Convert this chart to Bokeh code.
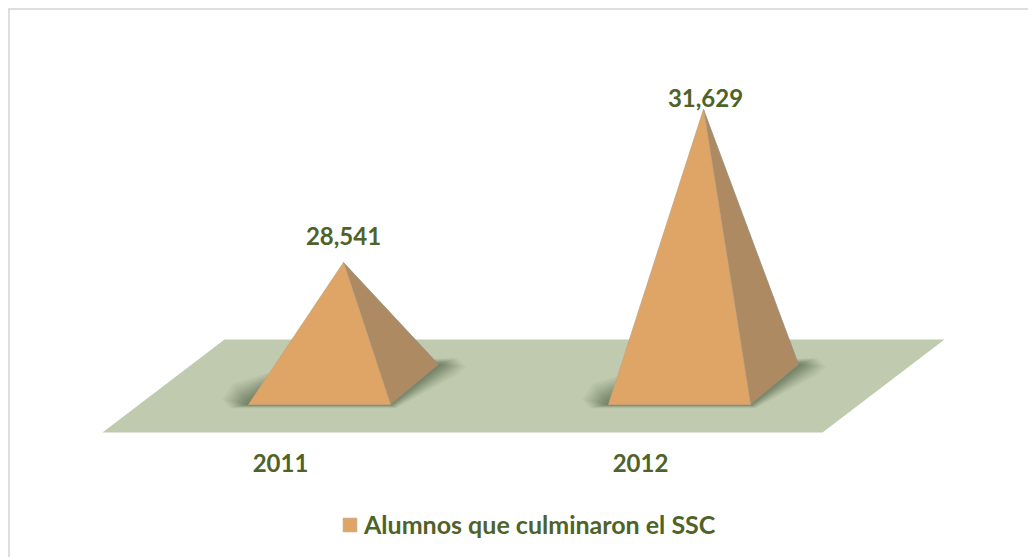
from bokeh.plotting import figure
from bokeh.models import Range1d, Legend, LegendItem, FixedTicker
from bokeh.embed import file_html
from bokeh.resources import INLINE
from bokeh.core.properties import value

categories = ["2011", "2012"]
values = [28541, 31629]
labels = ["28,541", "31,629"]
series_name = "Alumnos que culminaron el SSC"

FONT = "Lato"
TXT = "#4F6228"
FW, FH = 1018, 547          # frame size in px
OX, OY = 10, 10             # frame offset from window
PX_PER_CAT = 360.0
PX_PER_VAL = 153 / 3088
BASE_VAL = 28541 - 142 / PX_PER_VAL   # value at the pyramids' front base edge

def ux(px): return (px - 280) / PX_PER_CAT     # window px -> category units
def dx(px): return px / PX_PER_CAT
def dv(px): return px / PX_PER_VAL
def vy(py): return BASE_VAL + (404 - py) / PX_PER_VAL

p = figure(frame_width=FW, frame_height=FH, output_backend="svg",
           toolbar_location=None, min_border=0,
           x_range=Range1d(ux(OX), ux(OX + FW)), y_range=Range1d(vy(OY + FH), vy(OY)))
p.margin = (8, 0, 0, 8)
p.styles = {"border-top": "2px solid #DEDEDE", "border-left": "2px solid #DEDEDE"}
p.grid.visible = False
p.outline_line_color = None
p.yaxis.visible = False
ax = p.xaxis[0]
ax.ticker = FixedTicker(ticks=[0, 1])
ax.major_label_overrides = {0: categories[0], 1: categories[1]}
ax.axis_line_color = None
ax.major_tick_line_color = None
ax.minor_tick_line_color = None
ax.major_tick_out = 0
ax.major_tick_in = 0
ax.minor_tick_out = 0
ax.major_label_standoff = -104
ax.major_label_text_font = FONT
ax.major_label_text_font_style = "bold"
ax.major_label_text_font_size = "24px"
ax.major_label_text_color = TXT

# floor
fl = dv(28)
p.patch([ux(102), ux(822), ux(944), ux(224)],
        [BASE_VAL - fl, BASE_VAL - fl, vy(339), vy(339)],
        fill_color="#BFCAAF", line_color=None)

BASE_W = dx(142)
DEPTH_X = dx(48)
DEPTH_V = dv(40)
OFFSET = dx(39)   # front-edge centre relative to the category tick
front_r = None
for i, v in enumerate(values):
    xl = i + OFFSET - BASE_W / 2
    xr = i + OFFSET + BASE_W / 2
    apex_x = i + OFFSET + DEPTH_X / 2
    # soft shadow: stacked, growing translucent copies of the base
    for grow, a in [(26, .05), (23, .06), (20, .07), (17, .08), (14, .09), (11, .10), (8, .11), (5, .12), (2, .12)]:
        g = dx(grow)
        h = dv(grow)
        sx = [xl - g * .7, xl - g, xl - g * .6, xl + DEPTH_X,
              xr + DEPTH_X + g * .7, xr + DEPTH_X + g * 1.05, xr + DEPTH_X + g * .7, xr + g * .2]
        sy = [BASE_VAL - h * .14, BASE_VAL + h * .2, BASE_VAL + h * .8, BASE_VAL + DEPTH_V,
              BASE_VAL + DEPTH_V + h * .25, BASE_VAL + DEPTH_V - h * .1, BASE_VAL + DEPTH_V - h * .4, BASE_VAL - h * .14]
        p.patch(sx, sy, fill_color="#3F4F30", fill_alpha=a, line_color=None)
    # side face
    p.patch([xr, xr + DEPTH_X, apex_x], [BASE_VAL, BASE_VAL + DEPTH_V, v],
            fill_color="#AE8A63", line_color="#8F8F80", line_width=0.8)
    # front face
    r = p.patch([xl, xr, apex_x], [BASE_VAL, BASE_VAL, v],
                fill_color="#DFA566", line_color="#C8A27A", line_width=0.8)
    front_r = r

label_gap = [18, 3]
p.text(x=[ux(343), ux(705)], y=[v + dv(g) for v, g in zip(values, label_gap)], text=labels,
       text_font=value(FONT), text_font_style="bold", text_font_size="24px",
       text_color=TXT, text_align="center", text_baseline="bottom")

legend = Legend(items=[LegendItem(label=series_name, renderers=[front_r])],
                orientation="horizontal", location=(331, 18),
                border_line_color=None, background_fill_color=None,
                label_text_font=FONT, label_text_font_style="bold",
                label_text_font_size="25px", label_text_color=TXT,
                glyph_width=17, glyph_height=17, label_standoff=6,
                margin=0, padding=6, spacing=0)
p.add_layout(legend)

open("out.html", "w").write(file_html(p, INLINE))
